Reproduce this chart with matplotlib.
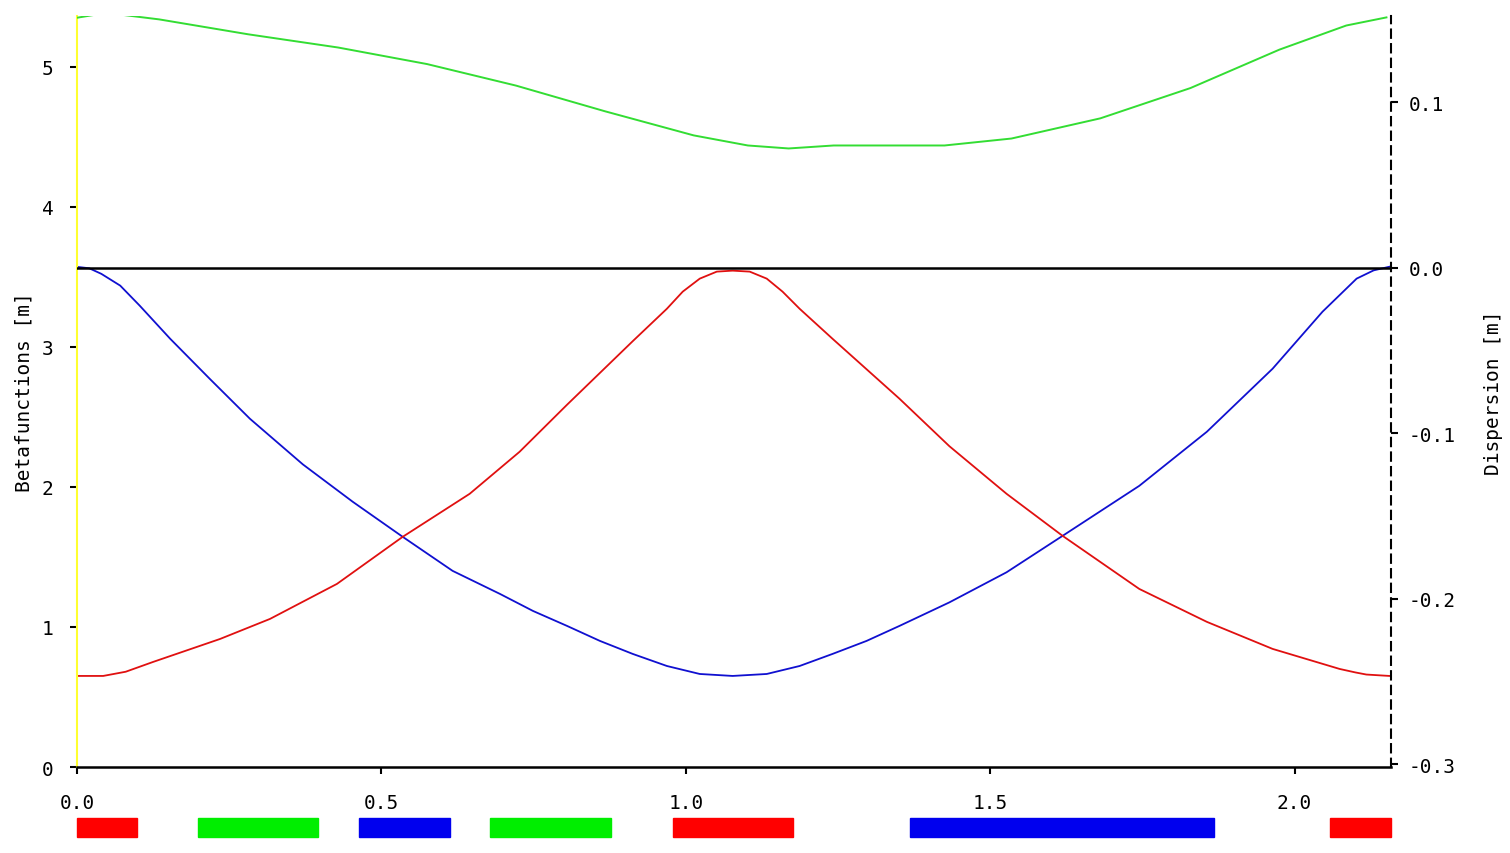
import matplotlib
matplotlib.use('Agg')
import matplotlib.pyplot as plt
import matplotlib.transforms as mtransforms

# beta functions [m] along s [m]
s_bx = [0.0, 0.02, 0.04, 0.071, 0.103, 0.153, 0.218, 0.284, 0.371, 0.453, 0.535, 0.617,
        0.695, 0.749, 0.805, 0.859, 0.913, 0.969, 1.023, 1.077, 1.133, 1.187, 1.241, 1.297,
        1.351, 1.433, 1.527, 1.619, 1.745, 1.856, 1.964, 2.046, 2.102, 2.13, 2.156]
beta_blue = [3.57, 3.56, 3.52, 3.436, 3.293, 3.057, 2.771, 2.486, 2.160, 1.893, 1.643, 1.400,
             1.235, 1.114, 1.007, 0.900, 0.807, 0.721, 0.664, 0.650, 0.664, 0.721, 0.807, 0.900,
             1.007, 1.175, 1.390, 1.650, 2.007, 2.393, 2.843, 3.250, 3.486, 3.545, 3.571]

s_by = [0.0, 0.043, 0.08, 0.125, 0.235, 0.317, 0.427, 0.535, 0.645, 0.727, 0.805, 0.913,
        0.969, 0.995, 1.023, 1.051, 1.077, 1.105, 1.133, 1.159, 1.187, 1.241, 1.351,
        1.433, 1.527, 1.619, 1.745, 1.856, 1.964, 2.074, 2.10, 2.118, 2.156]
beta_red = [0.65, 0.65, 0.68, 0.75, 0.914, 1.057, 1.307, 1.643, 1.950, 2.250, 2.586, 3.04,
            3.271, 3.393, 3.486, 3.536, 3.543, 3.536, 3.486, 3.393, 3.271, 3.057, 2.629,
            2.290, 1.950, 1.650, 1.271, 1.036, 0.843, 0.700, 0.675, 0.660, 0.650]

# dispersion [m]
s_d = [0.0, 0.033, 0.069, 0.135, 0.281, 0.429, 0.575, 0.721, 0.867, 1.013, 1.102, 1.169,
       1.243, 1.425, 1.535, 1.681, 1.829, 1.975, 2.085, 2.151]
disp = [0.151, 0.153, 0.153, 0.150, 0.141, 0.133, 0.123, 0.110, 0.0945, 0.0799, 0.0738,
        0.0720, 0.0738, 0.0738, 0.0780, 0.0902, 0.1085, 0.1317, 0.1463, 0.1512]

# lattice elements (start, end, colour)
elem_start = [0.0, 0.199, 0.463, 0.678, 0.979, 1.368, 2.059]
elem_end = [0.098, 0.396, 0.612, 0.878, 1.176, 1.867, 2.158]
elem_color = ['#ff0000', '#00ee00', '#0000ee', '#00ee00', '#ff0000', '#0000ee', '#ff0000']

s_max = 2.158
mono = 'DejaVu Sans Mono'

fig = plt.figure(figsize=(15.1, 8.54), dpi=100)
ax = fig.add_axes([0.051, 0.1007, 0.870, 0.8793])
ax2 = ax.twinx()

ax.plot(s_bx, beta_blue, color='#1010d0', lw=1.3)
ax.plot(s_by, beta_red, color='#e01010', lw=1.3)
ax2.plot(s_d, disp, color='#33dd33', lw=1.4)
ax2.axhline(0.0, color='black', lw=1.8)

ax.set_xlim(0, s_max)
ax.set_ylim(0, 5.36)
ax2.set_ylim(-0.3018, 0.152)

ax.set_xticks([0.0, 0.5, 1.0, 1.5, 2.0])
ax.set_xticklabels(['0.0', '0.5', '1.0', '1.5', '2.0'])
ax.set_yticks([0, 1, 2, 3, 4, 5])
ax2.set_yticks([-0.3, -0.2, -0.1, 0.0, 0.1])
ax2.set_yticklabels(['-0.3', '-0.2', '-0.1', '0.0', '0.1'])

for a in (ax, ax2):
    a.spines['top'].set_visible(False)
    a.tick_params(labelsize=14, length=5, width=1.5, color='black')
    for lab in a.get_xticklabels() + a.get_yticklabels():
        lab.set_family(mono)
ax.tick_params(axis='x', pad=14)
ax.tick_params(axis='y', pad=12)
ax2.tick_params(axis='y', pad=8)

ax.spines['left'].set_color('#ffff30')
ax.spines['left'].set_linewidth(1.5)
ax.spines['right'].set_visible(False)
ax.spines['bottom'].set_linewidth(1.8)
ax2.spines['left'].set_visible(False)
ax2.spines['bottom'].set_visible(False)
ax2.spines['right'].set_linestyle((0, (4, 3)))
ax2.spines['right'].set_linewidth(1.5)

ax.set_ylabel('Betafunctions [m]', family=mono, fontsize=14, labelpad=6)
ax2.set_ylabel('Dispersion [m]', family=mono, fontsize=14, labelpad=20)

# element bars below the axis
trans = mtransforms.blended_transform_factory(ax.transData, ax.transAxes)
for x0, x1, c in zip(elem_start, elem_end, elem_color):
    ax.add_patch(plt.Rectangle((x0, -0.093), x1 - x0, 0.025, transform=trans,
                               color=c, clip_on=False))

fig.savefig('out.png', dpi=100)
